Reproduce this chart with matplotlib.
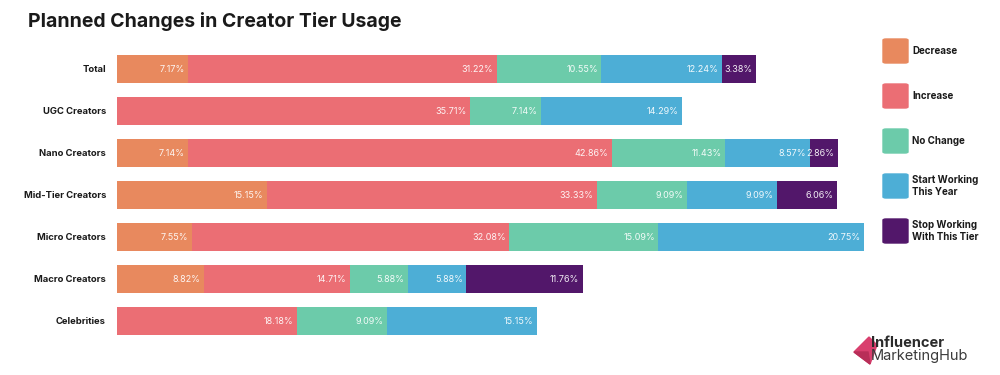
import matplotlib.pyplot as plt
from matplotlib.patches import FancyBboxPatch, Polygon

plt.rcParams['font.family'] = ['Inter', 'DejaVu Sans']

# Данные
tiers = ["Total", "UGC Creators", "Nano Creators", "Mid-Tier Creators",
         "Micro Creators", "Macro Creators", "Celebrities"]
series = ["Decrease", "Increase", "No Change", "Start Working\nThis Year",
          "Stop Working\nWith This Tier"]
decrease = [7.17, 0, 7.14, 15.15, 7.55, 8.82, 0]
increase = [31.22, 35.71, 42.86, 33.33, 32.08, 14.71, 18.18]
no_change = [10.55, 7.14, 11.43, 9.09, 15.09, 5.88, 9.09]
start_working = [12.24, 14.29, 8.57, 9.09, 20.75, 5.88, 15.15]
stop_working = [3.38, 0, 2.86, 6.06, 0, 11.76, 0]
values = [decrease, increase, no_change, start_working, stop_working]
colors = ['#E8895E', '#EB6E74', '#6CCBAA', '#4DAED6', '#52176A']

fig = plt.figure(figsize=(10, 3.75), dpi=100)
ax = fig.add_axes([0.117, 0.088, 0.748, 0.784])

left = [0] * len(tiers)
for vals, col in zip(values, colors):
    ax.barh(range(len(tiers)), vals, left=left, height=0.66, color=col)
    for i, v in enumerate(vals):
        if v > 0:
            ax.text(left[i] + v - 0.35, i, f"{v:.2f}%", ha='right', va='center',
                    color='white', fontsize=6.5, alpha=0.92)
    left = [l + v for l, v in zip(left, vals)]

ax.set_xlim(0, 75.6)
ax.set_ylim(len(tiers) - 0.5, -0.5)
ax.set_yticks(range(len(tiers)))
ax.set_yticklabels(tiers, fontsize=6.8, fontweight='bold', color='#1a1a1a')
ax.tick_params(axis='y', length=0, pad=8)
ax.set_xticks([])
for s in ax.spines.values():
    s.set_visible(False)

fig.text(0.028, 0.928, "Planned Changes in Creator Tier Usage", fontsize=14,
         fontweight='bold', color='#1a1a1a', va='baseline')

# Легенда
W, H = 1000, 375
for k, (lab, col) in enumerate(zip(series, colors)):
    y_top = 39 + k * 45
    fig.add_artist(FancyBboxPatch((883 / W, 1 - (y_top + 24) / H), 25 / W, 24 / H,
                                  boxstyle="round,pad=0,rounding_size=0.003",
                                  transform=fig.transFigure, color=col))
    fig.text(912 / W, 1 - (y_top + 12) / H, lab, fontsize=7, fontweight='bold',
             va='center', ha='left', color='#1a1a1a', linespacing=1.3)

# Логотип
fig.add_artist(Polygon([(854 / W, 1 - 352 / H), (869 / W, 1 - 337 / H),
                        (877 / W, 1 - 345 / H), (870 / W, 1 - 364 / H)],
                       closed=True, transform=fig.transFigure, color='#D93F6E'))
fig.add_artist(Polygon([(854 / W, 1 - 352 / H), (868 / W, 1 - 352 / H),
                        (870 / W, 1 - 364 / H)],
                       closed=True, transform=fig.transFigure, color='#B82E58'))
fig.text(871 / W, 1 - 347 / H, "Influencer", fontsize=10.5, fontweight='bold',
         color='#2b2b2b', va='baseline')
fig.text(871 / W, 1 - 360 / H, "MarketingHub", fontsize=10.5, color='#3a3a3a',
         va='baseline')

fig.savefig("out.png", dpi=100, facecolor='white')
